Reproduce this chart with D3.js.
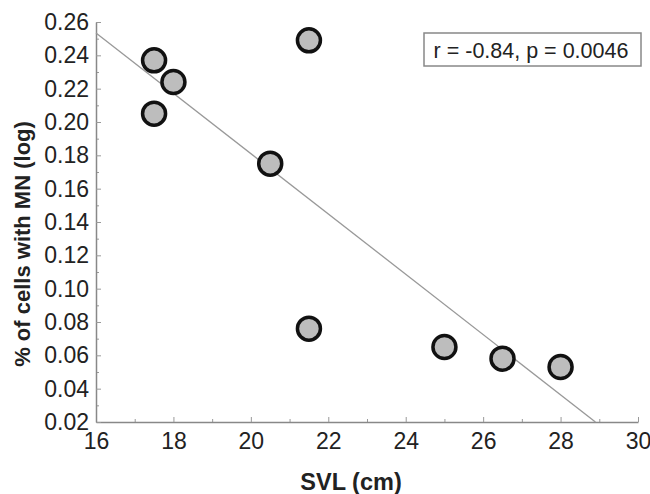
<!DOCTYPE html>
<html>
<head>
<meta charset="utf-8">
<script src="https://cdn.jsdelivr.net/npm/d3@7"></script>
<style>
  body { margin: 0; background: #fff; }
  svg { display: block; font-family: Arial, "Liberation Sans", sans-serif; }
</style>
</head>
<body>
<div id="chart"></div>
<script>
// measured values
var svl = [17.5, 18, 17.5, 21.5, 20.5, 21.5, 25, 26.5, 28];
var mn = [0.237, 0.224, 0.205, 0.249, 0.175, 0.076, 0.065, 0.058, 0.053];
var fitX = [16, 28.9];
var fitY = [0.2534, 0.02];
var xTicks = [16, 18, 20, 22, 24, 26, 28, 30];
var yTicks = [0.02, 0.04, 0.06, 0.08, 0.10, 0.12, 0.14, 0.16, 0.18, 0.20, 0.22, 0.24, 0.26];
var statText = "r = -0.84, p = 0.0046";

var width = 650, height = 494;
var margin = { left: 96, right: 12, top: 22, bottom: 72 };

var svg = d3.select("#chart")
    .append("svg")
    .attr("width", width)
    .attr("height", height);

var x = d3.scaleLinear()
    .domain([16, 30])
    .range([margin.left, width - margin.right]);
var y = d3.scaleLinear()
    .domain([0.02, 0.26])
    .range([height - margin.bottom, margin.top]);

// minor ticks
svg.append("g")
    .attr("transform", "translate(0," + y(0.02) + ")")
    .call(d3.axisBottom(x).tickValues(d3.range(17, 30, 2)).tickSize(-3).tickFormat(""))
    .call(g => g.select(".domain").remove())
    .selectAll("line").attr("stroke", "#999");
svg.append("g")
    .attr("transform", "translate(" + x(16) + ",0)")
    .call(d3.axisLeft(y).tickValues(d3.range(0.03, 0.26, 0.02)).tickSize(-3).tickFormat(""))
    .call(g => g.select(".domain").remove())
    .selectAll("line").attr("stroke", "#999");

var xAxis = svg.append("g")
    .attr("transform", "translate(0," + y(0.02) + ")")
    .call(d3.axisBottom(x).tickValues(xTicks).tickSize(-5).tickPadding(11).tickSizeOuter(0));
var yAxis = svg.append("g")
    .attr("transform", "translate(" + x(16) + ",0)")
    .call(d3.axisLeft(y).tickValues(yTicks).tickFormat(d3.format(".2f")).tickSize(-5).tickPadding(7).tickSizeOuter(0));

[xAxis, yAxis].forEach(function (g) {
    g.select(".domain").attr("stroke", "#888").attr("stroke-width", 1.5);
    g.selectAll(".tick line").attr("stroke", "#999");
    g.selectAll(".tick text")
        .attr("font-size", 23)
        .attr("fill", "#222")
        .attr("font-family", "Arial, 'Liberation Sans', sans-serif");
});

// regression line
svg.append("line")
    .attr("x1", x(fitX[0])).attr("y1", y(fitY[0]))
    .attr("x2", x(fitX[1])).attr("y2", y(fitY[1]))
    .attr("stroke", "#999")
    .attr("stroke-width", 1.3);

// points
svg.append("g")
    .selectAll("circle")
    .data(svl)
    .join("circle")
    .attr("cx", d => x(d))
    .attr("cy", (d, i) => y(mn[i]))
    .attr("r", 11.5)
    .attr("fill", "#bdbdbd")
    .attr("stroke", "#111")
    .attr("stroke-width", 3.5);

// stats box
var box = svg.append("g");
box.append("rect")
    .attr("x", 424).attr("y", 33)
    .attr("width", 217).attr("height", 33)
    .attr("fill", "#fff")
    .attr("stroke", "#888")
    .attr("stroke-width", 1.5);
box.append("text")
    .attr("x", 531).attr("y", 57.5)
    .attr("text-anchor", "middle")
    .attr("font-size", 21.5)
    .attr("fill", "#222")
    .text(statText);

// axis titles
svg.append("text")
    .attr("x", 351)
    .attr("y", 490)
    .attr("text-anchor", "middle")
    .attr("font-size", 23.5)
    .attr("font-weight", "bold")
    .attr("fill", "#222")
    .text("SVL (cm)");

svg.append("text")
    .attr("transform", "translate(30,244) rotate(-90)")
    .attr("text-anchor", "middle")
    .attr("font-size", 22)
    .attr("font-weight", "bold")
    .attr("fill", "#222")
    .text("% of cells with MN (log)");
</script>
</body>
</html>
